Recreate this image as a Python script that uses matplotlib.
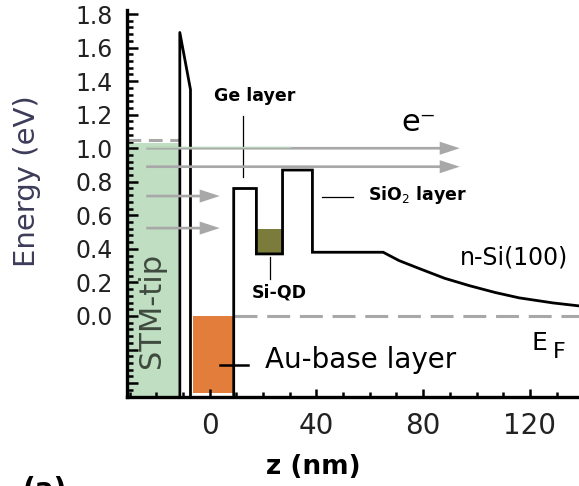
# Energy band diagram: STM-tip / Au / Ge / Si-QD / SiO2 / n-Si(100)
import matplotlib.pyplot as plt
import numpy as np
from matplotlib.ticker import MultipleLocator, FuncFormatter

# tip barrier (x in nm, E in eV)
tip_x = [-11.2, -11.2, -7.2, -7.2]
tip_y = [-0.49, 1.69, 1.35, -0.49]

# Ge / Si-QD / SiO2 / n-Si band edge
band_x = [9, 9, 17.5, 17.5, 27.3, 27.3, 38.5, 38.5, 65, 71, 79, 88, 97.5, 107, 116, 128.6, 138.5]
band_y = [-0.49, 0.76, 0.76, 0.37, 0.37, 0.87, 0.87, 0.38, 0.38, 0.33, 0.28, 0.225, 0.18, 0.14, 0.108, 0.078, 0.06]

# quantum dot filling
qd_x = [17.5, 27.3]
qd_y = [0.37, 0.52]

# STM tip region and Au base layer
tip_region_x = [-31, -12]
tip_level = 1.03
au_x = [-6.2, 9]
au_y = [-0.46, 0.0]

# electron arrows: level, start, end
arrow_y = [1.0, 0.89, 0.715, 0.524]
arrow_x0 = [-23.8, -23.8, -23.8, -23.8]
arrow_x1 = [93.7, 93.7, 3.75, 3.75]

EF = 0.0

fig = plt.figure(figsize=(5.79, 4.86), dpi=100)
ax = fig.add_axes([0.2193, 0.1831, 0.7807, 0.7963])
ax.set_xlim(-31, 138.4)
ax.set_ylim(-0.483, 1.824)

# STM tip (green)
ax.fill_between(tip_region_x, -0.49, tip_level, color='#c0dec2', lw=0, zorder=1)
ax.plot([-31, -11], [1.05, 1.05], color='#a8a8a8', lw=2.2, dashes=(4.5, 2.5), zorder=2)
ax.text(-21.7, 0.036, 'STM-tip', rotation=90, ha='center', va='center',
        fontsize=22, color='#3e4a3e', zorder=3)

# Au base layer
ax.fill_between(au_x, au_y[0], au_y[1], color='#e27d3c', lw=0, zorder=1)

# quantum dot
ax.fill_between(qd_x, qd_y[0], qd_y[1], color='#7b7b3c', lw=0, zorder=1)

# Fermi level
ax.plot([9, 138.5], [EF, EF], color='#a8a8a8', lw=2.2, dashes=(7.5, 3.2), zorder=2)

# black lines
ax.plot(tip_x, tip_y, color='black', lw=2.0, zorder=3)
ax.plot(band_x, band_y, color='black', lw=2.0, zorder=3, solid_joinstyle='miter')
ax.plot([4, 14.4], [-0.292, -0.292], color='black', lw=1.8, zorder=3)

# gray arrows
for y, x0, x1 in zip(arrow_y, arrow_x0, arrow_x1):
    ax.arrow(x0, y, x1 - x0, 0, width=0.016, head_width=0.078, head_length=7.5,
             length_includes_head=True, color='#a8a8a8', lw=0, zorder=4)
ax.plot([-23.8, 30], [1.006, 1.006], color='#b6d2b6', lw=0.9, zorder=4)

# pointer lines
ax.plot([12.5, 12.5], [0.83, 1.19], color='black', lw=0.9, zorder=3)
ax.plot([42, 53.6], [0.71, 0.71], color='black', lw=0.9, zorder=3)
ax.plot([22.5, 22.5], [0.35, 0.22], color='black', lw=0.9, zorder=3)

# labels
lab = dict(fontweight='bold', fontsize=12.5)
ax.text(16.9, 1.31, 'Ge layer', ha='center', va='center', **lab)
ax.text(59.2, 0.72, 'SiO$_2$ layer', ha='left', va='center', **lab)
ax.text(26.0, 0.14, 'Si-QD', ha='center', va='center', **lab)
ax.text(72, 1.10, 'e⁻', fontsize=22, ha='left', va='baseline')
ax.text(93.7, 0.35, 'n-Si(100)', fontsize=17, ha='left', va='center')
ax.text(120.7, -0.203, 'E', fontsize=18, ha='left', va='baseline')
ax.text(128.5, -0.25, 'F', fontsize=16, ha='left', va='baseline')
ax.text(20.6, -0.31, 'Au-base layer', fontsize=20, ha='left', va='baseline')

# axes styling
for s in ['top', 'right']:
    ax.spines[s].set_visible(False)
for s in ['left', 'bottom']:
    ax.spines[s].set_linewidth(2.4)
ax.xaxis.set_major_locator(MultipleLocator(40))
ax.xaxis.set_minor_locator(MultipleLocator(10))
ax.yaxis.set_major_locator(MultipleLocator(0.2))
ax.yaxis.set_minor_locator(MultipleLocator(0.04))
ax.yaxis.set_major_formatter(FuncFormatter(lambda v, p: '' if v < -1e-9 else f'{abs(v):.1f}'))
ax.tick_params(axis='both', which='both', direction='in', width=1.8, colors='black')
ax.tick_params(axis='y', which='major', length=8, pad=10, labelsize=17, labelcolor='#222222')
ax.tick_params(axis='y', which='minor', length=4)
ax.tick_params(axis='x', which='major', length=6, pad=11, labelsize=20, labelcolor='#222222')
ax.tick_params(axis='x', which='minor', length=3.5)

fig.text(27 / 579, 1 - 181 / 486, 'Energy (eV)', rotation=90, ha='center', va='center',
         fontsize=21, color='#3c3c5a')
fig.text(313 / 579, 1 - 467 / 486, 'z (nm)', ha='center', va='center',
         fontsize=19, fontweight='bold')
fig.text(23 / 579, 1 - 476 / 486, '(a)', ha='left', va='top', fontsize=20, fontweight='bold')

fig.savefig('out.png', dpi=100)
